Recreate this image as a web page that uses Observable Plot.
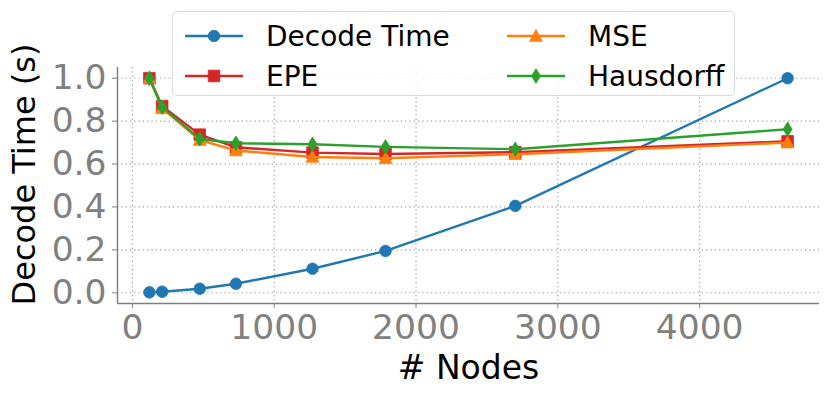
<!DOCTYPE html>
<html>
<head>
<meta charset="utf-8">
<script src="https://cdn.jsdelivr.net/npm/d3@7"></script>
<script src="https://cdn.jsdelivr.net/npm/@observablehq/plot@0.6"></script>
<style>
  html, body { margin: 0; padding: 0; background: #fff; }
  #wrap { position: relative; width: 831px; height: 399px; font-family: "DejaVu Sans", sans-serif; }
  #legend { position: absolute; left: 172px; top: 11px; width: 561px; height: 83px;
    border: 1px solid #d9d9d9; border-radius: 5px; background: rgba(255,255,255,0.8); }
  #legend svg { position: absolute; left: 0; top: 0; }
</style>
</head>
<body>
<div id="wrap"></div>
<script>
// ---- data ----
const nodes = [120, 210, 475, 730, 1270, 1785, 2700, 4620];
const decodeTime = [0.002, 0.005, 0.019, 0.042, 0.112, 0.195, 0.405, 1.0];
const epe = [1.0, 0.870, 0.737, 0.678, 0.653, 0.647, 0.655, 0.706];
const mse = [1.0, 0.860, 0.712, 0.663, 0.633, 0.627, 0.646, 0.700];
const hausdorff = [1.0, 0.865, 0.717, 0.697, 0.692, 0.680, 0.669, 0.762];
const seriesNames = ["Decode Time", "EPE", "MSE", "Hausdorff"];
const xTicks = [0, 1000, 2000, 3000, 4000];
const yTicks = [0.0, 0.2, 0.4, 0.6, 0.8, 1.0];

const colors = {"Decode Time": "#1f77b4", "EPE": "#d62728", "MSE": "#ff7f0e", "Hausdorff": "#2ca02c"};
const values = {"Decode Time": decodeTime, "EPE": epe, "MSE": mse, "Hausdorff": hausdorff};

// custom marker shapes (matplotlib-like)
const symCircle = {draw(c) { c.moveTo(5.8, 0); c.arc(0, 0, 5.8, 0, 2 * Math.PI); }};
const symSquare = {draw(c) { c.moveTo(-5.8, -5.8); c.lineTo(5.8, -5.8); c.lineTo(5.8, 5.8); c.lineTo(-5.8, 5.8); c.closePath(); }};
const symTriangle = {draw(c) { c.moveTo(0, -6.6); c.lineTo(6.4, 5.3); c.lineTo(-6.4, 5.3); c.closePath(); }};
const symDiamond = {draw(c) { c.moveTo(0, -7.3); c.lineTo(4.5, 0); c.lineTo(0, 7.3); c.lineTo(-4.5, 0); c.closePath(); }};
const symbols = {"Decode Time": symCircle, "EPE": symSquare, "MSE": symTriangle, "Hausdorff": symDiamond};

const rows = [];
for (const s of seriesNames) nodes.forEach((n, i) => rows.push({series: s, nodes: n, value: values[s][i]}));

const tickColor = "#808080";
const gridStyle = {stroke: "#a0a0a0", strokeOpacity: 1, strokeWidth: 1.2, strokeDasharray: "1.3,3"};

const marks = [
  Plot.gridX(xTicks, gridStyle),
  Plot.gridY(yTicks, gridStyle),
  Plot.axisX(xTicks, {tickSize: 5, tickPadding: 6, stroke: tickColor, fill: tickColor, fontSize: 34.5, label: null, tickFormat: d => String(d)}),
  Plot.axisY(yTicks, {tickSize: 5, tickPadding: 6, stroke: tickColor, fill: tickColor, fontSize: 34.5, label: null, tickFormat: d => d.toFixed(1)}),
  Plot.ruleX([-105], {stroke: tickColor, strokeWidth: 1.5}),
  Plot.ruleY([-0.05], {stroke: tickColor, strokeWidth: 1.5}),
];
for (const s of seriesNames) {
  const data = rows.filter(r => r.series === s);
  marks.push(Plot.line(data, {x: "nodes", y: "value", stroke: colors[s], strokeWidth: 2.4}));
  marks.push(Plot.dot(data, {x: "nodes", y: "value", fill: colors[s], stroke: colors[s], strokeWidth: 0.8, symbol: symbols[s], r: 5}));
}
marks.push(Plot.text(["# Nodes"], {frameAnchor: "bottom", dy: 65, lineAnchor: "middle", textAnchor: "middle", fontSize: 33, fill: "black", text: d => d}));
marks.push(Plot.text(["Decode Time (s)"], {frameAnchor: "left", dx: -93, dy: -11, rotate: -90, lineAnchor: "middle", textAnchor: "middle", fontSize: 32, fill: "black", text: d => d}));

const chart = Plot.plot({
  width: 831,
  height: 399,
  marginLeft: 117,
  marginRight: 12,
  marginTop: 67,
  marginBottom: 96,
  style: {fontFamily: "DejaVu Sans, sans-serif", background: "white", overflow: "visible"},
  x: {domain: [-105, 4845], axis: null},
  y: {domain: [-0.05, 1.05], axis: null},
  marks
});
const wrap = document.getElementById("wrap");
wrap.appendChild(chart);

// ---- legend (HTML overlay) ----
const legend = document.createElement("div");
legend.id = "legend";
const ns = "http://www.w3.org/2000/svg";
const lsvg = document.createElementNS(ns, "svg");
lsvg.setAttribute("width", 561); lsvg.setAttribute("height", 83);
const items = [
  {s: "Decode Time", x: 12, y: 24},
  {s: "EPE", x: 12, y: 64},
  {s: "MSE", x: 334, y: 24},
  {s: "Hausdorff", x: 334, y: 64},
];
for (const it of items) {
  const g = document.createElementNS(ns, "g");
  const line = document.createElementNS(ns, "line");
  line.setAttribute("x1", it.x); line.setAttribute("x2", it.x + 58);
  line.setAttribute("y1", it.y); line.setAttribute("y2", it.y);
  line.setAttribute("stroke", colors[it.s]); line.setAttribute("stroke-width", 2.4);
  g.appendChild(line);
  const p = document.createElementNS(ns, "path");
  p.setAttribute("d", d3.symbol(symbols[it.s])());
  p.setAttribute("transform", `translate(${it.x + 29},${it.y})`);
  p.setAttribute("fill", colors[it.s]); p.setAttribute("stroke", colors[it.s]); p.setAttribute("stroke-width", 0.8);
  g.appendChild(p);
  const t = document.createElementNS(ns, "text");
  t.setAttribute("x", it.x + 81); t.setAttribute("y", it.y);
  t.setAttribute("dy", "0.36em");
  t.setAttribute("font-size", 28); t.setAttribute("font-family", "DejaVu Sans, sans-serif");
  t.textContent = it.s;
  g.appendChild(t);
  lsvg.appendChild(g);
}
legend.appendChild(lsvg);
wrap.appendChild(legend);
</script>
</body>
</html>
